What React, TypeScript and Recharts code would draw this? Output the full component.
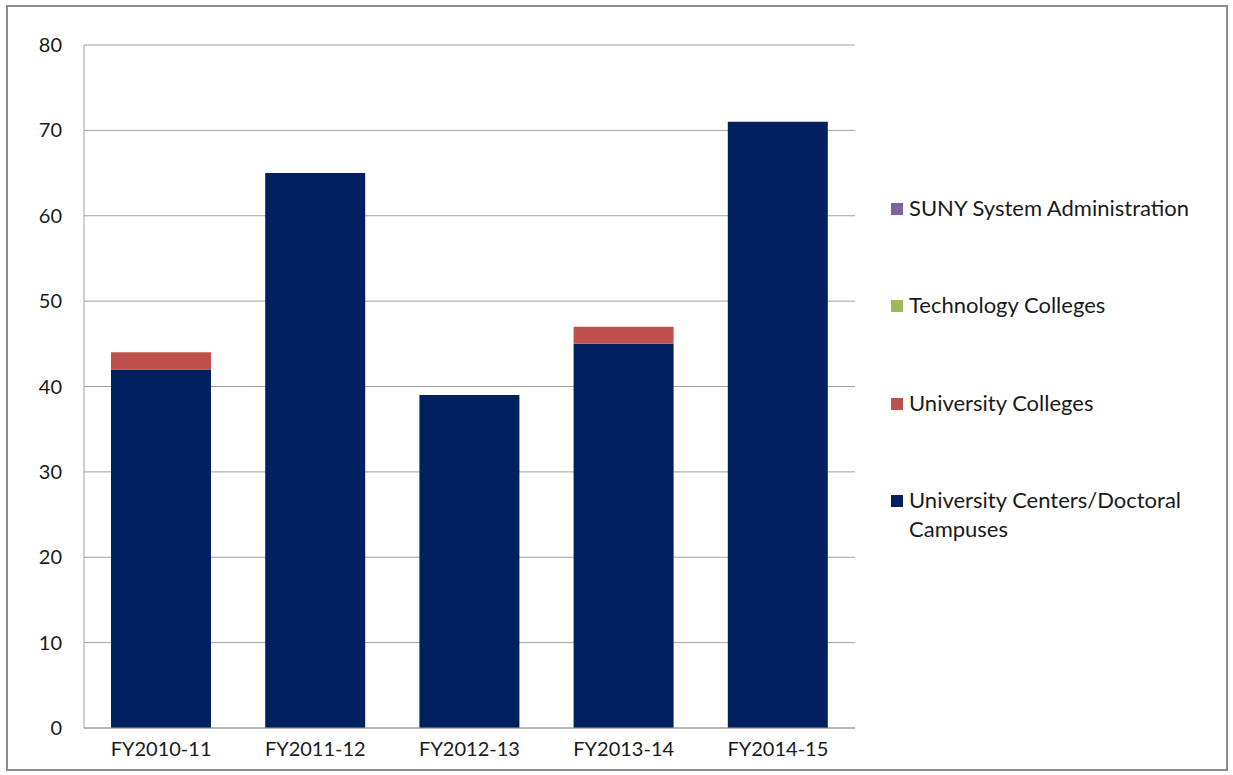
import React from 'react';
import { BarChart, Bar, XAxis, YAxis, CartesianGrid, Legend } from 'recharts';

const categories = ['FY2010-11', 'FY2011-12', 'FY2012-13', 'FY2013-14', 'FY2014-15'];
const centersDoctoral = [42, 65, 39, 45, 71];
const universityColleges = [2, 0, 0, 2, 0];
const technologyColleges = [0, 0, 0, 0, 0];
const sunySystemAdmin = [0, 0, 0, 0, 0];
const yTicks = [0, 10, 20, 30, 40, 50, 60, 70, 80];

const seriesNames = [
  'SUNY System Administration',
  'Technology Colleges',
  'University Colleges',
  'University Centers/Doctoral Campuses',
];
const seriesColors = ['#8064A2', '#9BBB59', '#C0504D', '#002060'];

const data = categories.map((c, i) => ({
  name: c,
  centers: centersDoctoral[i],
  uc: universityColleges[i],
  tech: technologyColleges[i],
  suny: sunySystemAdmin[i],
}));

const FONT = 'Lato, "Open Sans", sans-serif';

const LegendContent = () => {
  const rows = [
    { name: seriesNames[0], color: seriesColors[0], top: 0 },
    { name: seriesNames[1], color: seriesColors[1], top: 97 },
    { name: seriesNames[2], color: seriesColors[2], top: 195 },
    { name: 'University Centers/Doctoral\nCampuses', color: seriesColors[3], top: 292 },
  ];
  return (
    <div style={{ position: 'relative', width: 330, height: 360, fontFamily: FONT, fontSize: 22, color: '#1a1a1a' }}>
      {rows.map((r) => (
        <div key={r.name} style={{ position: 'absolute', left: 0, top: r.top, display: 'flex', alignItems: 'flex-start' }}>
          <div style={{ width: 12, height: 12, background: r.color, marginTop: 9, marginRight: 6 }} />
          <div style={{ whiteSpace: 'pre', lineHeight: '29px', marginTop: -1 }}>{r.name}</div>
        </div>
      ))}
    </div>
  );
};

export default function App() {
  return (
    <div style={{ position: 'absolute', left: 0, top: 0, width: 1233, height: 775, background: '#fff' }}>
      <div
        style={{
          position: 'absolute',
          left: 6,
          top: 5,
          width: 1222,
          height: 766,
          border: '2px solid #8c8c8c',
          boxSizing: 'border-box',
          pointerEvents: 'none',
        }}
      />
      <BarChart
        width={1233}
        height={775}
        data={data}
        margin={{ top: 45, right: 48, bottom: 17, left: 34 }}
        barSize={100}
      >
        <CartesianGrid vertical={false} stroke="#a0a0a0" strokeWidth={1} />
        <XAxis
          dataKey="name"
          height={30}
          tickLine={false}
          axisLine={{ stroke: '#a0a0a0' }}
          tickSize={6}
          tickMargin={8}
          tick={{ fill: '#1a1a1a', fontSize: 20, fontFamily: FONT }}
        />
        <YAxis
          width={50}
          domain={[0, 80]}
          ticks={yTicks}
          interval={0}
          tickLine={false}
          axisLine={{ stroke: '#a0a0a0' }}
          tickSize={6}
          tickMargin={16}
          tick={{ fill: '#1a1a1a', fontSize: 20, fontFamily: FONT }}
        />
        <Legend
          layout="vertical"
          align="right"
          verticalAlign="top"
          content={<LegendContent />}
          wrapperStyle={{ position: 'absolute', left: 891, top: 194, width: 330, height: 360 }}
        />
        <Bar dataKey="centers" name={seriesNames[3]} stackId="a" fill={seriesColors[3]} isAnimationActive={false} />
        <Bar dataKey="uc" name={seriesNames[2]} stackId="a" fill={seriesColors[2]} isAnimationActive={false} />
        <Bar dataKey="tech" name={seriesNames[1]} stackId="a" fill={seriesColors[1]} isAnimationActive={false} />
        <Bar dataKey="suny" name={seriesNames[0]} stackId="a" fill={seriesColors[0]} isAnimationActive={false} />
      </BarChart>
    </div>
  );
}
